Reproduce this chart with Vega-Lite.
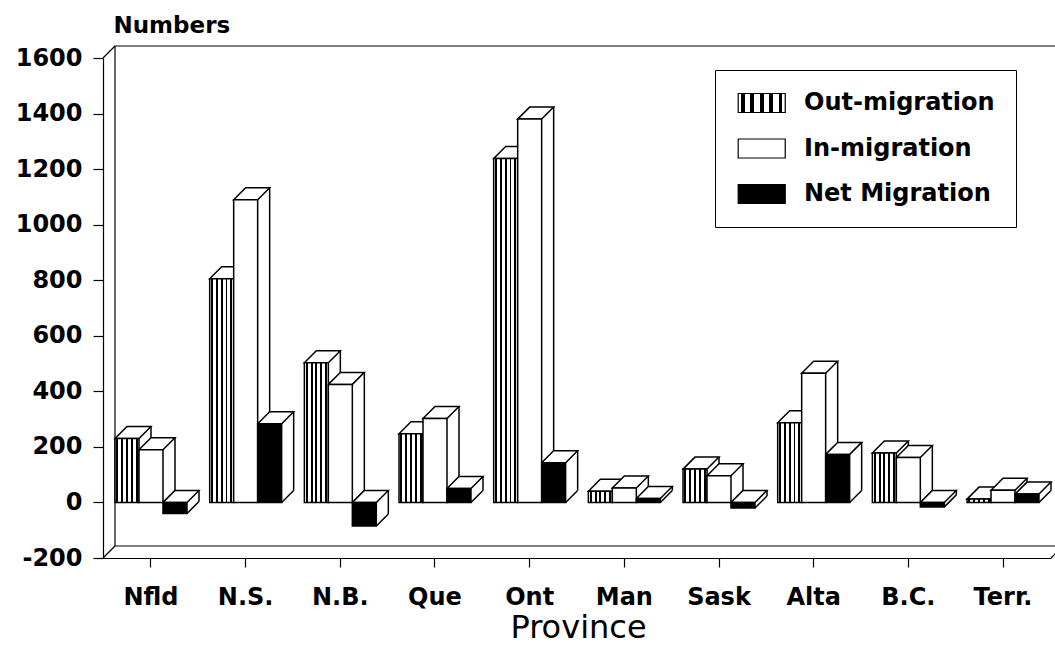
{
  "$schema": "https://vega.github.io/schema/vega-lite/v6.json",
  "width": 948,
  "height": 500,
  "autosize": {"type": "none"},
  "padding": {"left": 103, "top": 58, "right": 4, "bottom": 95},
  "background": "white",
  "config": {"view": {"stroke": null}, "font": "DejaVu Sans"},
  "data": {
    "values": [
      {"province": "Nfld", "series": "Out-migration", "value": 230},
      {"province": "Nfld", "series": "In-migration", "value": 190},
      {"province": "Nfld", "series": "Net Migration", "value": -40},
      {"province": "N.S.", "series": "Out-migration", "value": 805},
      {"province": "N.S.", "series": "In-migration", "value": 1090},
      {"province": "N.S.", "series": "Net Migration", "value": 283},
      {"province": "N.B.", "series": "Out-migration", "value": 503},
      {"province": "N.B.", "series": "In-migration", "value": 425},
      {"province": "N.B.", "series": "Net Migration", "value": -85},
      {"province": "Que", "series": "Out-migration", "value": 247},
      {"province": "Que", "series": "In-migration", "value": 302},
      {"province": "Que", "series": "Net Migration", "value": 50},
      {"province": "Ont", "series": "Out-migration", "value": 1238},
      {"province": "Ont", "series": "In-migration", "value": 1380},
      {"province": "Ont", "series": "Net Migration", "value": 143},
      {"province": "Man", "series": "Out-migration", "value": 40},
      {"province": "Man", "series": "In-migration", "value": 52},
      {"province": "Man", "series": "Net Migration", "value": 14},
      {"province": "Sask", "series": "Out-migration", "value": 120},
      {"province": "Sask", "series": "In-migration", "value": 96},
      {"province": "Sask", "series": "Net Migration", "value": -20},
      {"province": "Alta", "series": "Out-migration", "value": 287},
      {"province": "Alta", "series": "In-migration", "value": 465},
      {"province": "Alta", "series": "Net Migration", "value": 173},
      {"province": "B.C.", "series": "Out-migration", "value": 178},
      {"province": "B.C.", "series": "In-migration", "value": 162},
      {"province": "B.C.", "series": "Net Migration", "value": -16},
      {"province": "Terr.", "series": "Out-migration", "value": 12},
      {"province": "Terr.", "series": "In-migration", "value": 44},
      {"province": "Terr.", "series": "Net Migration", "value": 30}
    ]
  },
  "layer": [
    {
      "data": {"values": [{}]},
      "mark": {"type": "rect", "fill": "white", "stroke": "black", "strokeWidth": 1.2, "xOffset": 12, "x2Offset": 12, "yOffset": -12, "y2Offset": -12},
      "encoding": {"x": {"value": 0}, "x2": {"value": "width"}, "y": {"value": 0}, "y2": {"value": "height"}}
    },
    {
      "data": {"values": [{}]},
      "mark": {"type": "point", "shape": "M0,0L1,-1", "size": 576, "filled": false, "stroke": "black", "strokeWidth": 1.2, "opacity": 1},
      "encoding": {"x": {"value": 0}, "y": {"value": 0}}
    },
    {
      "data": {"values": [{}]},
      "mark": {"type": "point", "shape": "M0,0L1,-1", "size": 576, "filled": false, "stroke": "black", "strokeWidth": 1.2, "opacity": 1},
      "encoding": {"x": {"value": 0}, "y": {"value": "height"}}
    },
    {
      "data": {"values": [{}]},
      "mark": {"type": "point", "shape": "M0,0L1,-1", "size": 576, "filled": false, "stroke": "black", "strokeWidth": 1.2, "opacity": 1},
      "encoding": {"x": {"value": "width"}, "y": {"value": "height"}}
    },
    {
      "encoding": {
        "x": {
          "field": "province",
          "type": "nominal",
          "sort": ["Nfld", "N.S.", "N.B.", "Que", "Ont", "Man", "Sask", "Alta", "B.C.", "Terr."],
          "scale": {"paddingInner": 0.24, "paddingOuter": 0.127},
          "axis": {
            "title": "Province",
            "labelAngle": 0,
            "labelFont": "DejaVu Sans",
            "labelFontWeight": "bold",
            "labelFontSize": 24,
            "labelColor": "black",
            "labelPadding": 18,
            "tickSize": 9,
            "tickColor": "black",
            "tickWidth": 1.2,
            "domainColor": "black",
            "domainWidth": 1.2,
            "titleFont": "DejaVu Sans",
            "titleFontSize": 32,
            "titleFontWeight": "normal",
            "titleColor": "black",
            "titleX": 475,
            "titleY": 79,
            "titleAlign": "center",
            "titleBaseline": "alphabetic"
          }
        }
      },
      "layer": [
        {
          "transform": [{"filter": "datum.series === 'Out-migration'"}],
          "mark": {"type": "rule", "stroke": "black", "strokeWidth": 1.5, "xOffset": 0, "yOffset": -12, "y2Offset": -12},
          "encoding": {
            "y": {
              "field": "value",
              "type": "quantitative",
              "scale": {"domain": [-200, 1600], "nice": false, "zero": false},
              "axis": {
                "title": "Numbers",
                "values": [-200, 0, 200, 400, 600, 800, 1000, 1200, 1400, 1600],
                "labelExpr": "datum.value < 0 ? '-' + abs(datum.value) : '' + datum.value",
                "grid": false,
                "labelFont": "DejaVu Sans",
                "labelFontWeight": "bold",
                "labelFontSize": 24,
                "labelColor": "black",
                "labelPadding": 11,
                "tickSize": 10,
                "tickColor": "black",
                "tickWidth": 1.2,
                "domainColor": "black",
                "domainWidth": 1.2,
                "titleFont": "DejaVu Sans",
                "titleFontSize": 23,
                "titleFontWeight": "bold",
                "titleColor": "black",
                "titleAngle": 0,
                "titleAlign": "left",
                "titleBaseline": "alphabetic",
                "titleX": 10,
                "titleY": -26
              }
            },
            "y2": {"datum": 0}
          }
        },
        {
          "transform": [{"filter": "datum.series === 'In-migration'"}],
          "mark": {"type": "rule", "stroke": "black", "strokeWidth": 1.5, "xOffset": 24, "yOffset": -12, "y2Offset": -12},
          "encoding": {"y": {"field": "value", "type": "quantitative"}, "y2": {"datum": 0}}
        },
        {
          "transform": [{"filter": "datum.series === 'Net Migration'"}],
          "mark": {"type": "rule", "stroke": "black", "strokeWidth": 1.5, "xOffset": 48, "yOffset": -12, "y2Offset": -12},
          "encoding": {"y": {"field": "value", "type": "quantitative"}, "y2": {"datum": 0}}
        },
        {
          "transform": [{"filter": "datum.value >= 0"}],
          "mark": {"type": "point", "shape": "M1,0L2,-1", "size": 576, "filled": false, "stroke": "black", "strokeWidth": 1.5, "opacity": 1},
          "encoding": {
            "xOffset": {"field": "series", "type": "nominal", "sort": ["Out-migration", "In-migration", "Net Migration"], "scale": {"paddingInner": 0, "paddingOuter": 0}},
            "y": {"datum": 0, "type": "quantitative"}
          }
        },
        {
          "transform": [{"filter": "datum.value < 0"}],
          "mark": {"type": "point", "shape": "M1,0L2,-1", "size": 576, "filled": false, "stroke": "black", "strokeWidth": 1.5, "opacity": 1},
          "encoding": {
            "xOffset": {"field": "series", "type": "nominal", "sort": ["Out-migration", "In-migration", "Net Migration"], "scale": {"paddingInner": 0, "paddingOuter": 0}},
            "y": {"field": "value", "type": "quantitative"}
          }
        },
        {
          "transform": [{"filter": "datum.value >= 0"}],
          "mark": {"type": "point", "shape": "M-1,0L0,-1L2,-1L1,0Z", "size": 576, "filled": true, "fill": "white", "stroke": "black", "strokeWidth": 1.5, "opacity": 1},
          "encoding": {
            "xOffset": {"field": "series", "type": "nominal", "sort": ["Out-migration", "In-migration", "Net Migration"], "scale": {"paddingInner": 0, "paddingOuter": 0}},
            "y": {"field": "value", "type": "quantitative"}
          }
        },
        {
          "transform": [{"filter": "datum.value < 0"}],
          "mark": {"type": "point", "shape": "M-1,0L0,-1L2,-1L1,0Z", "size": 576, "filled": true, "fill": "white", "stroke": "black", "strokeWidth": 1.5, "opacity": 1},
          "encoding": {
            "xOffset": {"field": "series", "type": "nominal", "sort": ["Out-migration", "In-migration", "Net Migration"], "scale": {"paddingInner": 0, "paddingOuter": 0}},
            "y": {"datum": 0, "type": "quantitative"}
          }
        },
        {
          "mark": {"type": "bar", "stroke": "black", "strokeWidth": 1.5, "opacity": 1},
          "encoding": {
            "xOffset": {"field": "series", "type": "nominal", "sort": ["Out-migration", "In-migration", "Net Migration"], "scale": {"paddingInner": 0, "paddingOuter": 0}},
            "y": {"field": "value", "type": "quantitative"},
            "y2": {"datum": 0},
            "fill": {
              "field": "series",
              "type": "nominal",
              "scale": {
                "domain": ["Out-migration", "In-migration", "Net Migration"],
                "range": [
                  {"expr": "{gradient:'linear',x1:0,y1:0,x2:1,y2:0,stops:[{offset:0,color:'#fff'},{offset:0.06,color:'#fff'},{offset:0.06,color:'#000'},{offset:0.14,color:'#000'},{offset:0.14,color:'#fff'},{offset:0.26,color:'#fff'},{offset:0.26,color:'#000'},{offset:0.34,color:'#000'},{offset:0.34,color:'#fff'},{offset:0.46,color:'#fff'},{offset:0.46,color:'#000'},{offset:0.54,color:'#000'},{offset:0.54,color:'#fff'},{offset:0.66,color:'#fff'},{offset:0.66,color:'#000'},{offset:0.74,color:'#000'},{offset:0.74,color:'#fff'},{offset:0.86,color:'#fff'},{offset:0.86,color:'#000'},{offset:0.94,color:'#000'},{offset:0.94,color:'#fff'},{offset:1,color:'#fff'}]}"},
                  "white",
                  "black"
                ]
              },
              "legend": {
                "title": null,
                "orient": "none",
                "legendX": 612,
                "legendY": 12,
                "direction": "vertical",
                "padding": 21,
                "rowPadding": 21.5,
                "strokeColor": "black",
                "fillColor": "white",
                "labelFont": "DejaVu Sans",
                "labelFontWeight": "bold",
                "labelFontSize": 24,
                "labelColor": "black",
                "labelOffset": 44,
                "labelLimit": 400,
                "symbolType": "M-1,-0.97H3.8V0.97H-1Z",
                "symbolSize": 384,
                "symbolStrokeColor": "black",
                "symbolStrokeWidth": 1.2,
                "symbolOpacity": 1
              }
            }
          }
        }
      ]
    }
  ]
}
